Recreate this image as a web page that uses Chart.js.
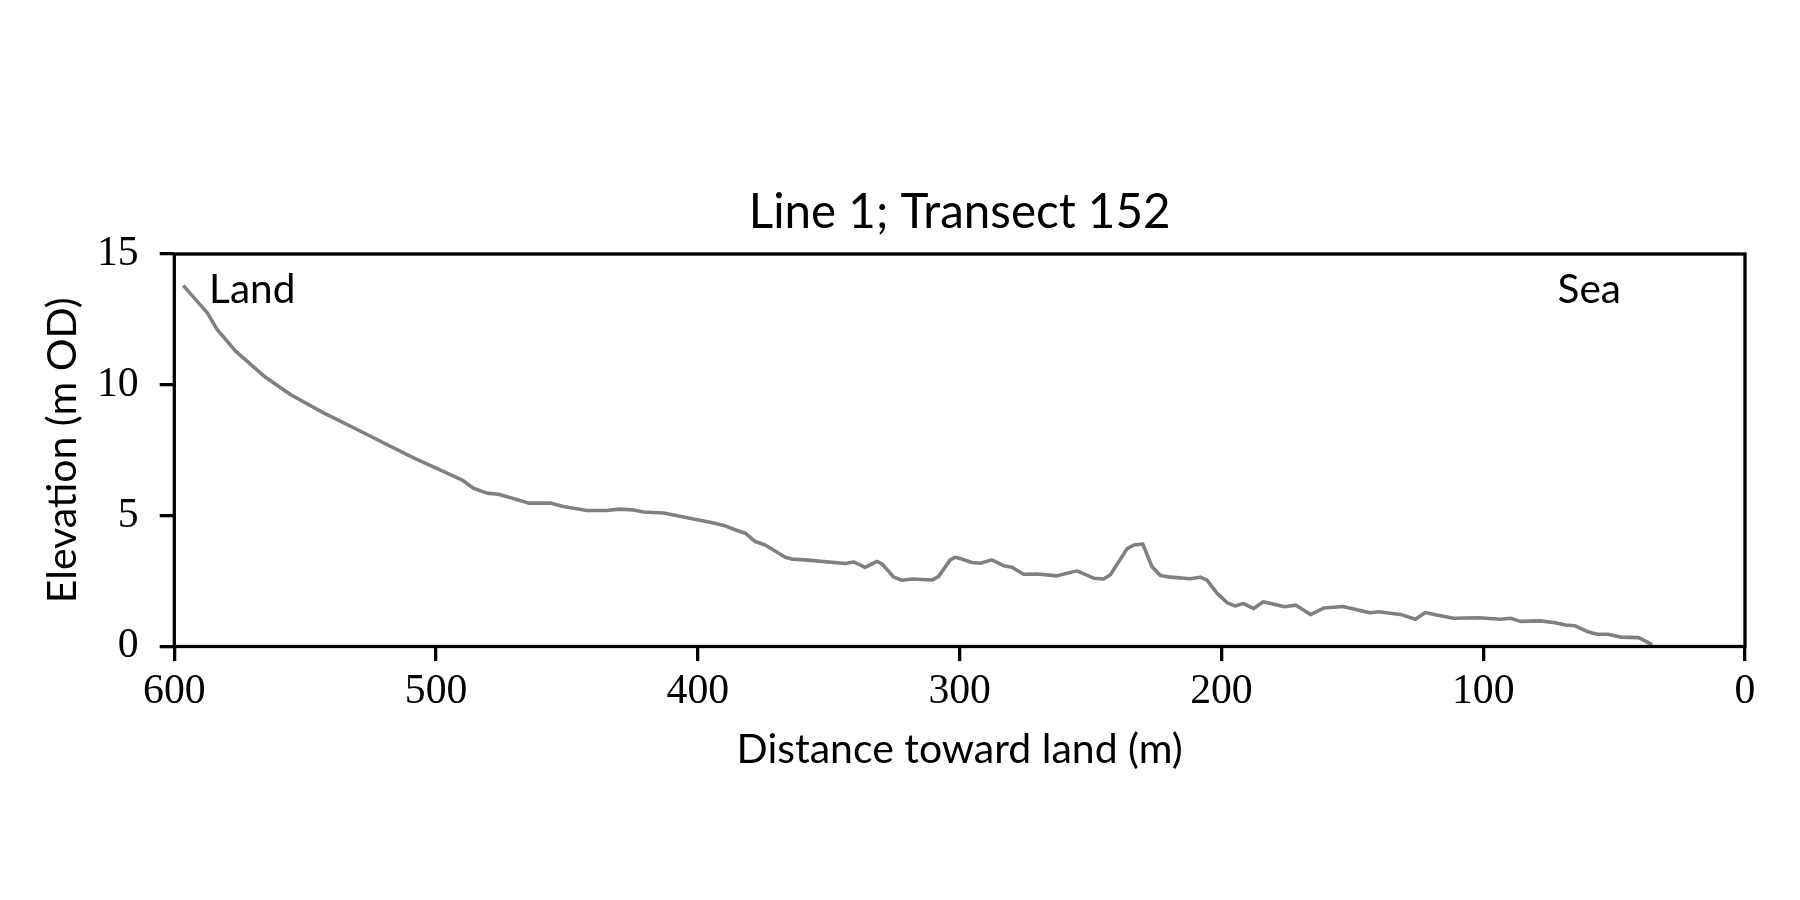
<!DOCTYPE html>
<html>
<head>
<meta charset="utf-8">
<script src="https://cdn.jsdelivr.net/npm/chart.js@4.4.1/dist/chart.umd.min.js"></script>
<style>
  html, body { margin: 0; padding: 0; background: #ffffff; }
  #wrap { width: 1800px; height: 900px; }
</style>
</head>
<body>
<div id="wrap"><canvas id="c" width="1800" height="900"></canvas></div>
<script>
// ---- data ----
const chartTitle = "Line 1; Transect 152";
const xAxisLabel = "Distance toward land (m)";
const yAxisLabel = "Elevation (m OD)";
const xTicks = [600, 500, 400, 300, 200, 100, 0];
const yTicks = [0, 5, 10, 15];
const distance = [
  596.6, 587.4, 583.6, 576.5, 565.7, 555.5, 542.8, 531.3, 518.6, 508.4,
  498.5, 490.2, 485.7, 480.6, 476.2, 467.9, 464.7, 456.4, 451.4, 442.4,
  434.8, 430.3, 424.6, 420.8, 413.1, 401.7, 395.3, 389.6, 385.8, 381.9,
  378.1, 374.3, 366.6, 364.1, 359.0, 343.7, 340.5, 336.1, 331.6, 329.7,
  325.2, 322.0, 318.2, 310.6, 308.1, 303.6, 301.7, 299.1, 295.3, 292.1,
  287.7, 283.2, 280.0, 275.6, 270.5, 262.8, 255.2, 248.8, 245.0, 242.4,
  236.1, 233.5, 230.1, 226.5, 223.3, 219.5, 211.9, 208.1, 205.5, 201.7,
  197.9, 194.9, 191.5, 187.7, 184.0, 175.9, 171.5, 166.0, 160.9, 153.6,
  148.2, 143.1, 139.9, 131.0, 125.9, 122.1, 118.3, 111.3, 101.7, 93.4,
  89.6, 85.8, 78.2, 72.5, 68.7, 64.9, 59.7, 56.5, 52.4, 47.6,
  40.6, 35.5
];
const elevation = [
  13.80, 12.75, 12.11, 11.28, 10.33, 9.62, 8.92, 8.35, 7.71, 7.20,
  6.75, 6.37, 6.05, 5.86, 5.82, 5.58, 5.48, 5.48, 5.35, 5.20,
  5.20, 5.25, 5.22, 5.14, 5.10, 4.87, 4.75, 4.61, 4.46, 4.33,
  4.01, 3.88, 3.41, 3.34, 3.31, 3.17, 3.23, 3.02, 3.25, 3.16,
  2.65, 2.53, 2.58, 2.54, 2.67, 3.31, 3.41, 3.34, 3.21, 3.18,
  3.31, 3.09, 3.03, 2.76, 2.77, 2.70, 2.89, 2.61, 2.58, 2.74,
  3.73, 3.88, 3.92, 3.05, 2.71, 2.65, 2.59, 2.65, 2.54, 2.04,
  1.68, 1.55, 1.64, 1.45, 1.71, 1.52, 1.58, 1.22, 1.47, 1.53,
  1.40, 1.29, 1.33, 1.21, 1.04, 1.30, 1.21, 1.08, 1.10, 1.04,
  1.08, 0.96, 0.98, 0.91, 0.82, 0.79, 0.55, 0.47, 0.47, 0.36,
  0.34, 0.07
];
const annotations = [
  { text: "Land", x: 586.7, y: 13.64 },
  { text: "Sea",  x: 71.6,  y: 13.64 }
];

// ---- styling ----
const SANS = "Lato, 'Open Sans', 'DejaVu Sans', sans-serif";
const SERIF = "'Liberation Serif', 'DejaVu Serif', serif";
const LW = 3.3;

const points = distance.map((d, i) => ({ x: d, y: elevation[i] }));

const framePlugin = {
  id: 'frame',
  afterDraw(chart) {
    const { ctx, chartArea: a, scales } = chart;
    ctx.save();
    ctx.strokeStyle = '#000';
    ctx.lineWidth = LW;
    ctx.strokeRect(a.left, a.top, a.right - a.left, a.bottom - a.top);
    ctx.fillStyle = '#000';
    ctx.font = "40.5px " + SANS;
    ctx.textBaseline = 'middle';
    ctx.textAlign = 'left';
    annotations.forEach(an => {
      ctx.fillText(an.text, scales.x.getPixelForValue(an.x), scales.y.getPixelForValue(an.y));
    });
    ctx.restore();
  }
};

new Chart(document.getElementById('c'), {
  type: 'line',
  data: {
    datasets: [{
      data: points,
      borderColor: '#808080',
      borderWidth: 3.6,
      pointRadius: 0,
      tension: 0,
      fill: false,
      borderJoinStyle: 'round',
      borderCapStyle: 'butt'
    }]
  },
  options: {
    responsive: false,
    animation: false,
    devicePixelRatio: 1,
    layout: { padding: { left: 0, right: 55, top: 0, bottom: 0 } },
    plugins: {
      legend: { display: false },
      tooltip: { enabled: false },
      title: {
        display: true,
        fullSize: false,
        text: chartTitle,
        color: '#000',
        font: { family: SANS, size: 47.5, weight: 'normal' },
        padding: { top: 184, bottom: 13 }
      }
    },
    scales: {
      x: {
        type: 'linear',
        reverse: true,
        min: 0, max: 600,
        afterBuildTicks(s) { s.ticks = xTicks.map(v => ({ value: v })); },
        afterFit(s) { s.height = 253.5; },
        border: { display: false },
        grid: { drawOnChartArea: false, drawTicks: true, tickLength: 14.6, color: '#000', lineWidth: LW },
        ticks: { color: '#000', font: { family: SERIF, size: 41.7 }, padding: 6, maxRotation: 0 },
        title: { display: true, text: xAxisLabel, color: '#000', font: { family: SANS, size: 41 }, padding: { top: 0, bottom: 126 } }
      },
      y: {
        type: 'linear',
        min: 0, max: 15,
        afterBuildTicks(s) { s.ticks = yTicks.map(v => ({ value: v })); },
        afterFit(s) { s.width = 174.3; },
        border: { display: false },
        grid: { drawOnChartArea: false, drawTicks: true, tickLength: 14.6, color: '#000', lineWidth: LW },
        ticks: { color: '#000', font: { family: SERIF, size: 41.7 }, padding: 21 },
        title: { display: true, text: yAxisLabel, color: '#000', font: { family: SANS, size: 41 }, padding: { top: 38, bottom: 0 } }
      }
    }
  },
  plugins: [framePlugin]
});
</script>
</body>
</html>
